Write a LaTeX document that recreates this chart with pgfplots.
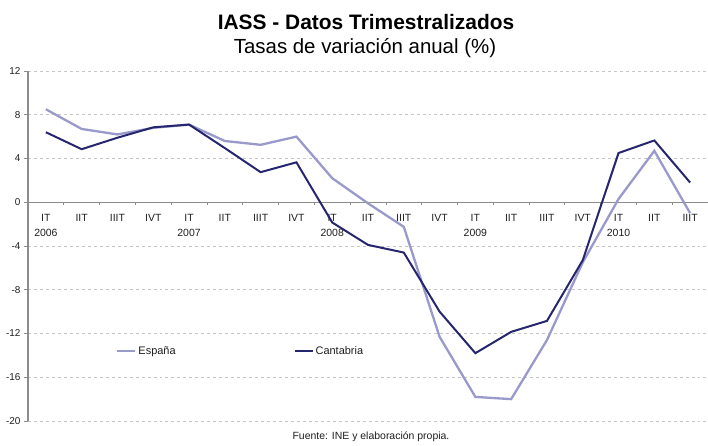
\documentclass[border=0pt]{standalone}
\usepackage{pgfplots}
\pgfplotsset{compat=1.18}
\usepackage{fontspec}
\setmainfont{Liberation Sans}
\definecolor{espana}{RGB}{153,153,204}
\definecolor{cantab}{RGB}{38,38,110}
\definecolor{axgray}{RGB}{140,140,140}
\definecolor{txt}{RGB}{30,30,30}
\begin{document}
\begin{tikzpicture}[x=1bp,y=1bp]
\useasboundingbox (0,0) rectangle (708,446);
\begin{axis}[
  at={(28bp,25bp)}, anchor=south west,
  scale only axis, width=680bp, height=350bp,
  xmin=-0.5, xmax=18.5, ymin=-20, ymax=12,
  axis y line=left, axis x line=middle,
  axis line style={axgray, line width=1.2bp, -},
  ytick={-20,-16,...,12},
  ymajorgrids, grid style={dashed, gray!45, line width=0.5bp},
  ytick style={axgray, line width=0.8bp},
  major tick length=4bp,
  ytick align=outside,
  xtick={0,...,18},
  major x tick style={draw=none},
  minor xtick={-0.5,0.5,...,18.5},
  minor x tick style={axgray, line width=0.8bp},
  minor tick length=3bp,
  xtick align=outside,
  xticklabels={{IT\\2006},IIT,IIIT,IVT,{IT\\2007},IIT,IIIT,IVT,{IT\\2008},IIT,IIIT,IVT,{IT\\2009},IIT,IIIT,IVT,{IT\\2010},IIT,IIIT},
  xticklabel style={align=center, font=\fontsize{10.5}{14.5}\selectfont, text=txt, yshift=-5bp},
  yticklabel style={font=\fontsize{10}{12}\selectfont, text=txt},
  /pgf/number format/assume math mode=true,
  clip=false,
  legend columns=2,
  legend style={at={(0.125,0.2)}, anchor=west, draw=none, fill=none,
    font=\fontsize{11}{13}\selectfont, text=txt,
    /tikz/every even column/.append style={column sep=116bp}},
  legend image code/.code={\draw[#1] (0bp,0bp) -- (18bp,0bp);},
]
\addplot[espana, line width=2.3bp] coordinates {
(0,8.5) (1,6.7) (2,6.2) (3,6.8) (4,7.1) (5,5.6) (6,5.25) (7,6.0) (8,2.2) (9,-0.1)
(10,-2.25) (11,-12.3) (12,-17.8) (13,-18.0) (14,-12.6) (15,-5.5) (16,0.3) (17,4.7) (18,-1.0)};
\addlegendentry{España}
\addplot[cantab, line width=2bp] coordinates {
(0,6.4) (1,4.85) (2,5.9) (3,6.85) (4,7.1) (5,4.95) (6,2.75) (7,3.65) (8,-1.85) (9,-3.9)
(10,-4.6) (11,-10.0) (12,-13.8) (13,-11.85) (14,-10.85) (15,-5.3) (16,4.5) (17,5.65) (18,1.8)};
\addlegendentry{Cantabria}
\end{axis}
\node[font=\bfseries\fontsize{21}{24}\selectfont, text=black] at (366,424) {IASS - Datos Trimestralizados};
\node[font=\fontsize{20.5}{24}\selectfont, text=black] at (365,398) {Tasas de variación anual (\%)};
\node[font=\fontsize{10.5}{12}\selectfont, text=txt] at (371,9) {Fuente: INE y elaboración propia.};
\end{tikzpicture}
\end{document}
